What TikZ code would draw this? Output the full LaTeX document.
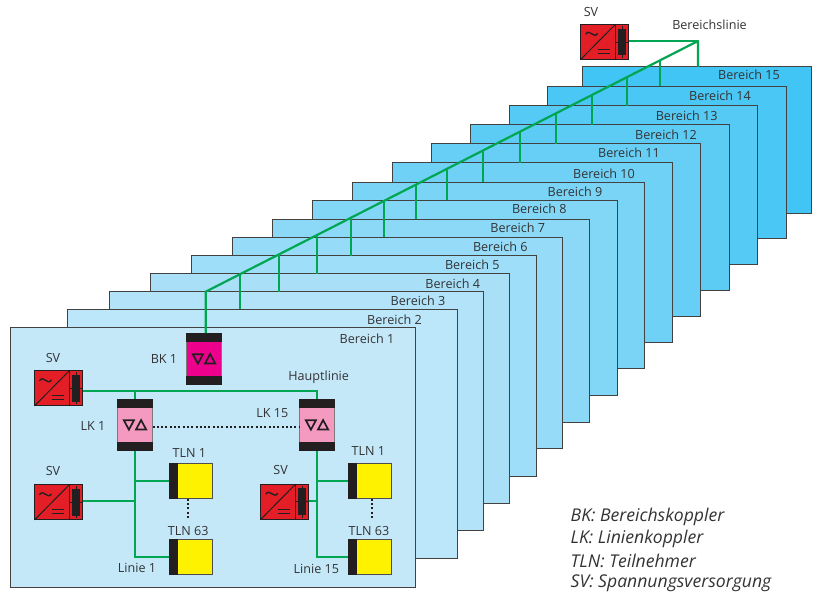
\documentclass[tikz,border=0pt]{standalone}
\usepackage{fontspec}
\setmainfont{Open Sans}
\usetikzlibrary{calc}
\definecolor{nearC}{HTML}{C5E8F9}
\definecolor{farC}{HTML}{41C5F4}
\definecolor{wireC}{HTML}{00A651}
\definecolor{inkC}{HTML}{231F20}
\definecolor{txtC}{HTML}{333335}
\definecolor{redC}{HTML}{E31E26}
\definecolor{bkC}{HTML}{EC008C}
\definecolor{lkC}{HTML}{F49AC1}
\definecolor{tlnC}{HTML}{FFF200}
\tikzset{
  x=1pt,y=-1pt,
  area/.style={draw=inkC!85!white,line width=0.95pt,anchor=north west,inner sep=0pt,outer sep=0pt},
  lbl/.style={font=\fontsize{12.6}{15}\selectfont,text=txtC,inner sep=0pt},
  legend/.style={font=\fontsize{17.6}{20}\selectfont\itshape,text=txtC,inner sep=0pt,anchor=west},
  wire/.style={draw=wireC,line width=2.2pt},
  dots/.style={draw=inkC,line width=2.1pt,dash pattern=on 2pt off 2.3pt},
  pics/svunit/.style={code={
    \node[draw=inkC,line width=1pt,fill=redC,minimum width=48.3pt,minimum height=35.3pt,inner sep=0pt,outer sep=0pt] (-box) at (0,0) {};
    \draw[inkC,line width=0.9pt] (10.8,-17.6) -- (10.8,17.6);
    \draw[inkC,line width=1pt] (-24,17.6) -- (10.8,-17.6);
    \fill[inkC] (13.5,-13.3) rectangle (21.5,13.3);
    \draw[inkC,line width=0.5pt] (10.8,0) -- (24,0) (17.5,-16) -- (17.5,16);
    \draw[inkC,line width=1.3pt] (-19,-7.5) .. controls (-15,-14) and (-11,-2) .. (-7,-8.5);
    \draw[inkC,line width=1.1pt] (-7,7.6) -- (5.5,7.6) (-7,11.6) -- (5.5,11.6);
  }},
  pics/coupler/.style={code={
    \node[fill=#1,draw=inkC!60!white,line width=0.7pt,minimum width=35pt,minimum height=51.7pt,inner sep=0pt,outer sep=0pt] (-box) at (0,0) {};
    \fill[inkC] (-18,-25.85) rectangle (18,-16.9);
    \fill[inkC] (-18,16.9) rectangle (18,25.85);
    \draw[inkC,line width=1.7pt,line join=miter] (-11.2,-4.7) -- (-1,-4.7) -- (-6.1,4.8) -- cycle;
    \draw[inkC,line width=1.7pt,line join=miter] (1,4.7) -- (11.2,4.7) -- (6.1,-4.8) -- cycle;
  }},
  pics/tlnunit/.style={code={
    \node[fill=tlnC,draw=inkC!80!white,line width=1pt,minimum width=43.7pt,minimum height=35.7pt,inner sep=0pt,outer sep=0pt] (-box) at (0,0) {};
    \fill[inkC] (-21.85,-17.85) rectangle (-13.2,17.85);
  }},
}
\begin{document}
\begin{tikzpicture}
\useasboundingbox (0,0) rectangle (819,592);
% area sheets, far to near
\foreach \i/\l/\t/\r/\b/\cx/\cy in {
 15/582/66.7/811/213/749/74.7,
 14/547/86/786/238/720/95.7,
 13/509/105.7/757/264/686.7/115.3,
 12/470/124.7/729/290/666/134.3,
 11/431/143.7/700/316/629/152.3,
 10/392/162.7/672/342/604/173.7,
 9/352/182/644/368/575/191.5,
 8/312/200/617/395/539.3/208.7,
 7/272/219/589.7/422/517.7/227.7,
 6/232/237/562/448/500.3/246.7,
 5/191/255.7/536/476/472.3/264.7,
 4/150/273.7/509/503/452.7/283.3,
 3/109/291.7/483/530/418/300.7,
 2/67.7/309/457/558/394.5/320,
 1/10/327.7/415.5/587/367/338.3}{
  \pgfmathsetmacro{\mixp}{100*(15-\i)/14}
  \node[area,fill=nearC!\mixp!farC,minimum width={(\r-\l)*1pt},minimum height={(\b-\t)*1pt}] (b\i) at (\l,\t) {};
  \node[lbl] (bl\i) at (\cx,\cy) {Bereich \i};
}
% area line
\pic (svtop) at (604.7,41.8) {svunit};
\pic (bk) at (204,358.85) {coupler=bkC};
\coordinate (trunkA) at (205.7,291.7);
\coordinate (trunkB) at (698,41);
\draw[wire,line join=round] (bk-box.north -| trunkA) -- (trunkA) -- (trunkB) -- (trunkB |- b15.north);
\draw[wire] (svtop-box.east |- trunkB) -- (trunkB);
\foreach \n/\xx in {2/240,3/279,4/317,5/351,6/384,7/416,8/447,9/483,10/520,11/556,12/592,13/627,14/660}{
  \pgfmathsetmacro{\frac}{(\xx-205.7)/492.3}
  \coordinate (tap\n) at ($(trunkA)!\frac!(trunkB)$);
  \draw[wire] (tap\n) -- (tap\n |- b\n.north);
}
% devices in area 1
\pic (sv1) at (58.5,388.3) {svunit};
\pic (sv2) at (58.5,502.3) {svunit};
\pic (sv3) at (284.8,501.7) {svunit};
\pic (lk1) at (135,424.85) {coupler=lkC};
\pic (lk15) at (317,424.85) {coupler=lkC};
\pic (tln1a) at (190.85,481) {tlnunit};
\pic (tln63a) at (190.85,556.85) {tlnunit};
\pic (tln1b) at (369.85,481) {tlnunit};
\pic (tln63b) at (369.85,556.85) {tlnunit};
% main line
\coordinate (mainR) at (316.7,390.7);
\coordinate (mainL) at (134.7,390.7);
\draw[wire] (sv1-box.east |- mainR) -- (mainR) -- (mainR |- lk15-box.north);
\draw[wire] (mainL) -- (mainL |- lk1-box.north);
% line 1
\coordinate (l1a) at (134.7,556.85);
\draw[wire] (l1a |- lk1-box.south) -- (l1a) -- (tln63a-box.west);
\draw[wire] (l1a |- tln1a-box.west) -- (tln1a-box.west);
\draw[wire] (sv2-box.east |- 0,501.3) -- (l1a |- 0,501.3);
% line 15
\coordinate (l15a) at (316.7,556.85);
\draw[wire] (l15a |- lk15-box.south) -- (l15a) -- (tln63b-box.west);
\draw[wire] (l15a |- tln1b-box.west) -- (tln1b-box.west);
\draw[wire] (sv3-box.east |- 0,501.3) -- (l15a |- 0,501.3);
% dotted links
\draw[dots] ($(lk1-box.east)+(0,1.8)$) -- ($(lk15-box.west)+(0,1.8)$);
\draw[dots] ($(tln1a-box.south)+(-3,0)$) -- ($(tln63a-box.north)+(-3,-19)$);
\draw[dots] ($(tln1b-box.south)+(2,0)$) -- ($(tln63b-box.north)+(2,-19)$);
% labels
\node[lbl] (lsvtop) at (591,12) {SV};
\node[lbl] (lbereichslinie) at (709.5,24.5) {Bereichslinie};
\node[lbl] (lsv1) at (53,357.5) {SV};
\node[lbl] (lbk) at (164,358.5) {BK 1};
\node[lbl] (lhaupt) at (318.7,377.7) {Hauptlinie};
\node[lbl] (llk1) at (93,425.7) {LK 1};
\node[lbl] (llk15) at (272.3,412.7) {LK 15};
\node[lbl] (lsv2) at (53,470.7) {SV};
\node[lbl] (lsv3) at (280.7,469.7) {SV};
\node[lbl] (ltln1a) at (189.3,452.7) {TLN 1};
\node[lbl] (ltln1b) at (368.3,450.7) {TLN 1};
\node[lbl] (ltln63a) at (188.3,530.7) {TLN 63};
\node[lbl] (ltln63b) at (369,530.7) {TLN 63};
\node[lbl] (llin1) at (137,567.7) {Linie 1};
\node[lbl] (llin15) at (316.3,568.7) {Linie 15};
% legend
\node[legend] (leg1) at (570.5,516.5) {BK: Bereichskoppler};
\node[legend] (leg2) at (570.5,538.5) {LK: Linienkoppler};
\node[legend] (leg3) at (570.5,561) {TLN: Teilnehmer};
\node[legend] (leg4) at (570.5,583) {SV: Spannungsversorgung};
\end{tikzpicture}
\end{document}
